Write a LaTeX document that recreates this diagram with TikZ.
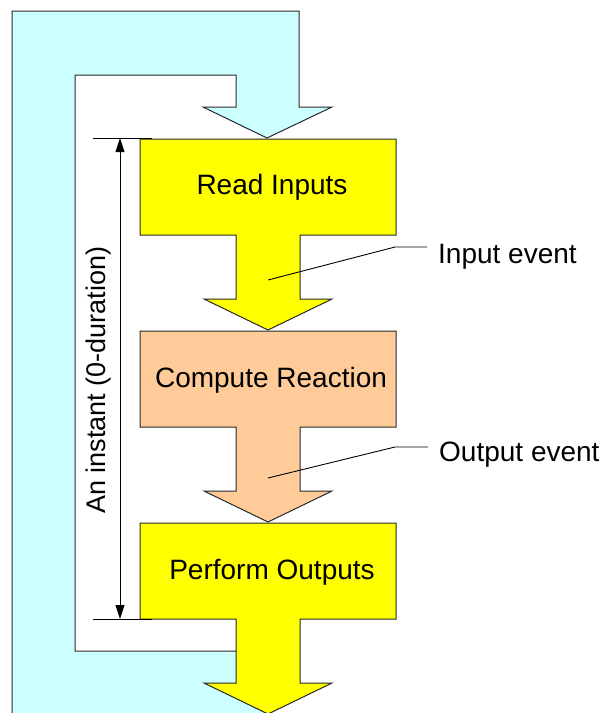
\documentclass[tikz,border=0pt]{standalone}
\usepackage{fontspec}
\setmainfont{Liberation Sans}
\usetikzlibrary{arrows.meta,calc}
\definecolor{cyanfill}{RGB}{204,255,255}
\definecolor{peach}{RGB}{255,204,153}
\definecolor{yel}{RGB}{255,255,0}
\definecolor{edge}{RGB}{40,40,40}
\begin{document}
\begin{tikzpicture}[x=1pt,y=-1pt,
  shapeline/.style={draw=edge, line width=1pt, line join=miter},
  lbl/.style={font=\fontsize{28}{33}\selectfont, inner sep=0pt},
  thinline/.style={draw=black, line width=0.9pt},
  dimarrow/.style={thinline, >={Triangle[length=14pt,width=9pt]}, <->}]
\useasboundingbox (0,0) rectangle (599,713);
\fill[white] (0,0) rectangle (599,713);
% cyan loop-back arrow
\path[shapeline, fill=cyanfill] (12,11) -- (299,11) -- (299,107) -- (332,107) -- (267,138)
  -- (203,107) -- (236,107) -- (236,75) -- (75,75) -- (75,651) -- (268,651) -- (268,720)
  -- (12,720) -- cycle;
% step boxes with arrows
\foreach \t/\c in {139/yel,331/peach,523/yel}{
  \path[shapeline, fill=\c] (140,\t) -- (396,\t) -- (396,{\t+96}) -- (300,{\t+96})
    -- (300,{\t+160}) -- (332,{\t+160}) -- (268,{\t+191}) -- (204,{\t+160})
    -- (236,{\t+160}) -- (236,{\t+96}) -- (140,{\t+96}) -- cycle;
}
\node[lbl, anchor=base] (read) at (272,194) {Read Inputs};
\node[lbl, anchor=base] (compute) at (271,387) {Compute Reaction};
\node[lbl, anchor=base] (perform) at (272,579) {Perform Outputs};
% dimension line
\coordinate (tickTL) at (93,138);
\coordinate (tickTR) at (152,138);
\coordinate (tickBL) at (93,619);
\coordinate (tickBR) at (152,619);
\coordinate (dimtop) at (120,138);
\coordinate (dimbot) at (120,619);
\draw[thinline] (tickTL) -- (tickTR);
\draw[thinline] (tickBL) -- (tickBR);
\draw[dimarrow] (dimtop) -- (dimbot);
\node[lbl, font=\fontsize{27}{32}\selectfont, rotate=90, anchor=base] (instant) at (105,380) {An instant (0-duration)};
% callouts
\coordinate (inpt) at (268,280);
\coordinate (inbend) at (395,247);
\coordinate (inend) at (427,247);
\node[lbl, anchor=base west] (inlab) at (438,263) {Input event};
\draw[thinline] (inpt) -- (inbend) -- (inend);
\coordinate (outpt) at (268,478);
\coordinate (outbend) at (395,447);
\coordinate (outend) at (428,447);
\node[lbl, anchor=base west] (outlab) at (439,461) {Output event};
\draw[thinline] (outpt) -- (outbend) -- (outend);
\end{tikzpicture}
\end{document}
